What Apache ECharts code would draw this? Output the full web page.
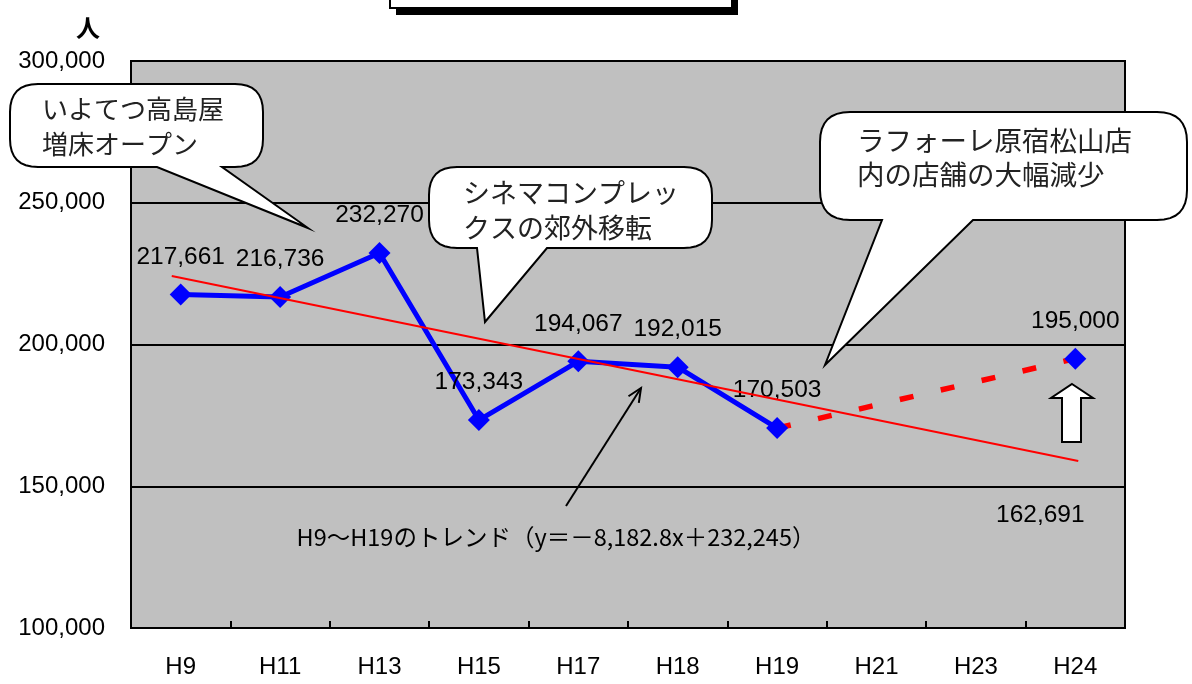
<!DOCTYPE html>
<html>
<head>
<meta charset="utf-8">
<script src="https://cdn.jsdelivr.net/npm/echarts@6/dist/echarts.min.js"></script>
<style>
html, body { margin: 0; padding: 0; background: #fff; }
#main { width: 1192px; height: 684px; }
</style>
</head>
<body>
<div id="main"></div>
<script>
// 年度
const categories = ['H9', 'H11', 'H13', 'H15', 'H17', 'H18', 'H19', 'H21', 'H23', 'H24'];
// 実績（人）
const visitors = [217661, 216736, 232270, 173343, 194067, 192015, 170503, null, null, 195000];
// 目標へ向かう点線 H19 → H24
const targetLine = [null, null, null, null, null, null, 170503, null, null, 195000];
// トレンド線の両端（x はカテゴリ番号）
const trendX = [-0.09, 9.03];
const trendY = [224160, 158900];
const trendEndText = '162,691';
const trendText = 'H9～H19のトレンド（y＝－8,182.8x＋232,245）';
// y軸
const yMin = 100000, yMax = 300000, yStep = 50000;
const yUnit = '人';

// 吹き出しテキスト
const notes = [
  'いよてつ高島屋\n増床オープン',
  'シネマコンプレッ\nクスの郊外移転',
  'ラフォーレ原宿松山店\n内の店舗の大幅減少'
];

const numFont = "'Liberation Sans', Arial, sans-serif";
const jpFont = "'Noto Sans CJK JP', sans-serif";
const fmt = v => Number(v).toLocaleString('en-US');

// 2次ベジェで角を丸めた点列
function corner (pts, p0, c, p1) {
  for (let i = 0; i <= 8; i++) {
    let t = i / 8, u = 1 - t;
    pts.push([u * u * p0[0] + 2 * u * t * c[0] + t * t * p1[0], u * u * p0[1] + 2 * u * t * c[1] + t * t * p1[1]]);
  }
}

// 角丸四角形吹き出し
function bubblePoints (x0, y0, x1, y1, r, b0, b1, tx, ty) {
  let pts = [];
  corner(pts, [x1 - r, y0], [x1, y0], [x1, y0 + r]);
  corner(pts, [x1, y1 - r], [x1, y1], [x1 - r, y1]);
  pts.push([b1, y1], [tx, ty], [b0, y1]);
  corner(pts, [x0 + r, y1], [x0, y1], [x0, y1 - r]);
  corner(pts, [x0, y0 + r], [x0, y0], [x0 + r, y0]);
  return pts;
}

function bubble (box, tail, text, tx, ty, size, lh) {
  return [
    {
      type: 'polygon', z: 100,
      shape: { points: bubblePoints(box[0], box[1], box[2], box[3], box[4], tail[0], tail[1], tail[2], tail[3]) },
      style: { fill: '#fff', stroke: '#000', lineWidth: 2 }
    },
    {
      type: 'text', z: 101, x: tx, y: ty,
      style: { text: text, font: `${size}px ${jpFont}`, fill: '#222', lineHeight: lh, textVerticalAlign: 'top' }
    }
  ];
}

// 矢印（トレンド説明）
const arrTail = [566, 506], arrTip = [641, 388];
const ang = Math.atan2(arrTip[1] - arrTail[1], arrTip[0] - arrTail[0]);
const headLen = 15, headAng = 0.42;
const head = [
  [arrTip[0] - headLen * Math.cos(ang - headAng), arrTip[1] - headLen * Math.sin(ang - headAng)],
  arrTip,
  [arrTip[0] - headLen * Math.cos(ang + headAng), arrTip[1] - headLen * Math.sin(ang + headAng)]
];

let myChart = echarts.init(document.getElementById('main'));
let option = {
  animation: false,
  grid: {
    left: 131, right: 67, top: 61, bottom: 56,
    show: true,
    backgroundColor: '#c0c0c0',
    borderColor: '#000',
    borderWidth: 2
  },
  xAxis: [
    {
      type: 'category',
      data: categories,
      axisLine: { lineStyle: { color: '#000', width: 2 } },
      axisTick: { show: true, inside: true, length: 7, lineStyle: { color: '#000', width: 2 } },
      axisLabel: { color: '#000', fontSize: 24, fontFamily: numFont, margin: 27 },
      splitLine: { show: false }
    },
    {
      // トレンド線用の非表示軸
      type: 'value', min: -0.5, max: 9.5, show: false
    }
  ],
  yAxis: {
    type: 'value',
    min: yMin, max: yMax, interval: yStep,
    axisLine: { show: true, onZero: false, lineStyle: { color: '#000', width: 2 } },
    axisTick: { show: false },
    axisLabel: { color: '#000', fontSize: 24, fontFamily: numFont, margin: 26, formatter: fmt },
    splitLine: { show: true, lineStyle: { color: '#000', width: 2 } }
  },
  series: [
    {
      // H19 → H24 点線
      type: 'line',
      data: targetLine,
      connectNulls: true,
      symbol: 'none',
      z: 2,
      lineStyle: { color: '#ff0000', width: 5.5, type: [14, 28] }
    },
    {
      type: 'line',
      data: visitors,
      connectNulls: false,
      symbol: 'diamond',
      symbolSize: 22,
      z: 3,
      lineStyle: { color: '#0000ff', width: 5 },
      itemStyle: { color: '#0000ff' },
      label: {
        show: true,
        position: 'top',
        distance: 14,
        color: '#000',
        fontSize: 24.5,
        fontFamily: numFont,
        formatter: p => fmt(p.value)
      }
    },
    {
      // トレンド線
      type: 'line',
      xAxisIndex: 1,
      data: trendX.map((x, i) => [x, trendY[i]]),
      symbol: 'circle',
      symbolSize: 1,
      showSymbol: true,
      z: 4,
      lineStyle: { color: '#ff0000', width: 2 },
      itemStyle: { color: 'rgba(0,0,0,0)' },
      label: {
        show: true,
        position: 'inside',
        offset: [-38, 54],
        color: '#000',
        fontSize: 24.5,
        fontFamily: numFont,
        formatter: p => (p.dataIndex === 1 ? trendEndText : '')
      }
    }
  ],
  graphic: [
    // タイトル枠（上端のみ見える）
    { type: 'rect', z: 100, shape: { x: 396, y: -10, width: 342, height: 25 }, style: { fill: '#000' } },
    { type: 'rect', z: 101, shape: { x: 390, y: -10, width: 342, height: 18 }, style: { fill: '#fff', stroke: '#000', lineWidth: 2 } },
    // 単位
    {
      type: 'text', z: 100, x: 88, y: 28,
      style: { text: yUnit, font: `bold 24px ${jpFont}`, fill: '#000', textAlign: 'center', textVerticalAlign: 'middle' }
    },
    // 吹き出し
    ...bubble([10, 84, 263, 167, 28], [157, 222, 308, 228], notes[0], 42, 92, 26, 35),
    ...bubble([429, 167, 712, 248, 28], [477, 547, 485, 322], notes[1], 463, 175, 27, 35),
    ...bubble([820, 112, 1187, 220, 30], [882, 973, 825, 365], notes[2], 857, 124, 27.5, 34),
    // トレンド説明
    { type: 'line', z: 100, shape: { x1: arrTail[0], y1: arrTail[1], x2: arrTip[0], y2: arrTip[1] }, style: { stroke: '#000', lineWidth: 2 } },
    { type: 'polyline', z: 100, shape: { points: head }, style: { stroke: '#000', lineWidth: 2, fill: null } },
    {
      type: 'text', z: 100, x: 556, y: 537,
      style: { text: trendText, font: `23.5px ${jpFont}`, fill: '#000', textAlign: 'center', textVerticalAlign: 'middle' }
    },
    // 上向き矢印
    {
      type: 'polygon', z: 100,
      shape: { points: [[1072, 384], [1093, 398], [1081, 398], [1081, 442], [1062, 442], [1062, 398], [1051, 398]] },
      style: { fill: '#fff', stroke: '#000', lineWidth: 2 }
    }
  ]
};
myChart.setOption(option);
</script>
</body>
</html>
